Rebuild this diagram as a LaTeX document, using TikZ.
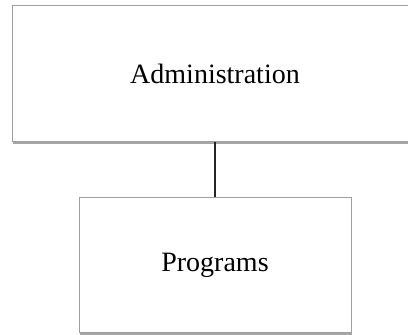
\documentclass[tikz,border=0pt]{standalone}
\usepackage{fontspec}
\setmainfont{Liberation Serif}
\usetikzlibrary{shadows}

\begin{document}
\begin{tikzpicture}[x=1pt, y=1pt]
  % Org chart: one unit above another

  % Page frame
  \clip (0,0) rectangle (408,335);
  \useasboundingbox (0,0) rectangle (408,335);

  \tikzset{
    unitbox/.style={draw=gray!75, line width=1pt, fill=white,
      drop shadow={shadow xshift=1pt, shadow yshift=-2.5pt, opacity=0.7},
      inner sep=0pt, font=\fontsize{28}{34}\selectfont},
    link/.style={line width=2.4pt, black!85}
  }

  % Units
  \node[unitbox, minimum width=406pt, minimum height=136pt] (admin) at (215,261) {Administration};
  \node[unitbox, minimum width=272pt, minimum height=135pt] (programs) at (215,69.5) {Programs};

  % Reporting line
  \draw[link] (admin.south) -- (programs.north);
\end{tikzpicture}
\end{document}
